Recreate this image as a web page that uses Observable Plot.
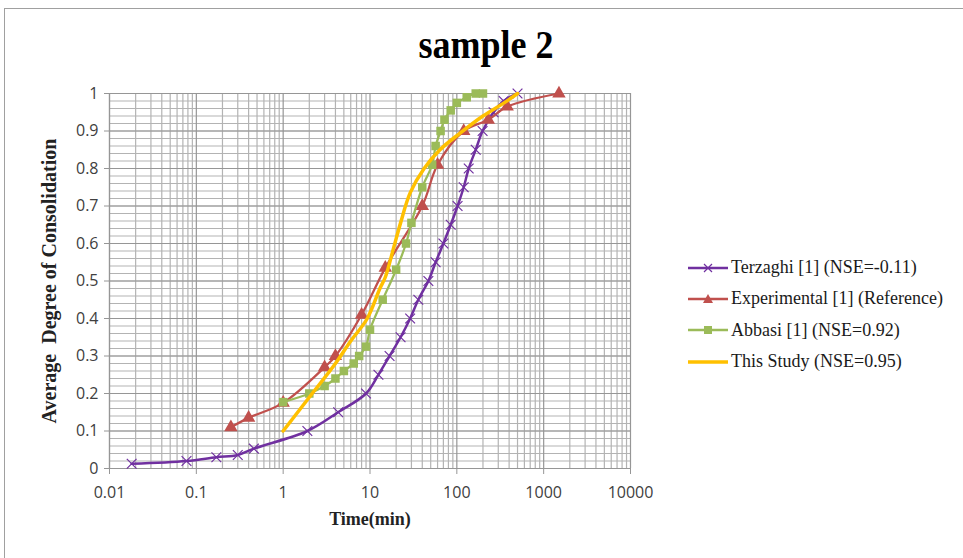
<!DOCTYPE html>
<html><head><meta charset="utf-8">
<script src="https://cdn.jsdelivr.net/npm/d3@7"></script>
<script src="https://cdn.jsdelivr.net/npm/@observablehq/plot@0.6"></script>
<style>
body{margin:0;background:#fff;}
#wrap{position:relative;width:963px;height:558px;overflow:hidden;background:#fff;}
#border{position:absolute;left:4px;top:8px;width:990px;height:600px;border:1px solid #a0a0a0;}
#title{position:absolute;top:24px;left:336px;width:300px;text-align:center;font:bold 36px "Liberation Serif",serif;color:#000;transform:scaleY(1.1);}
#chart{position:absolute;left:0;top:0;}
#legend{position:absolute;left:688px;top:252px;font-family:"Liberation Serif",serif;font-size:18px;color:#1a1a1a;}
.item{display:flex;align-items:center;height:31.3px;white-space:nowrap;}
.item svg{margin-right:3px;}
</style></head>
<body><div id="wrap"><div id="border"></div><div id="title">sample 2</div><div id="chart"></div><div id="legend"></div></div>
<script>
// ---- data ----
const terzaghiT = [0.018,0.077,0.17,0.3,0.46,1.9,4.3,9,12.5,16.8,22.5,29,36,47,57,70,85,102,120,137,165,198,265,346,500];
const terzaghiU = [0.0125,0.02,0.03,0.036,0.053,0.1,0.15,0.2,0.25,0.3,0.35,0.4,0.45,0.5,0.55,0.6,0.65,0.7,0.75,0.8,0.85,0.9,0.95,0.98,1.0];

const expT = [0.25,0.4,1,3,4,8,15,40,60,120,230,380,1500];
const expU = [0.11,0.135,0.175,0.27,0.3,0.41,0.535,0.7,0.81,0.9,0.93,0.965,1.0];

const abbasiT = [1,2,3,4,5,6.5,7.5,9,10,14,20,26,30,40,52,57,65,72,85,100,130,165,200];
const abbasiU = [0.177,0.2,0.22,0.24,0.26,0.28,0.3,0.325,0.37,0.45,0.53,0.6,0.655,0.75,0.81,0.86,0.9,0.93,0.955,0.975,0.99,1.0,1.0];

const studyT = [1,2,4,6,9.3,13,15,18.8,22.5,29,42,64,110,200,350,500];
const studyU = [0.10,0.19,0.28,0.34,0.40,0.48,0.51,0.59,0.655,0.735,0.80,0.85,0.895,0.94,0.975,1.0];

const xTicks = [0.01,0.1,1,10,100,1000,10000];
const yTicks = [0,0.1,0.2,0.3,0.4,0.5,0.6,0.7,0.8,0.9,1];

const seriesNames = ["Terzaghi [1] (NSE=-0.11)","Experimental [1] (Reference)","Abbasi [1] (NSE=0.92)","This Study (NSE=0.95)"];
const seriesColors = ["#7030A0","#C0504D","#9BBB59","#FFC000"];

// ---- build tables ----
const toRows = (T, U) => T.map((t, i) => ({t, u: U[i]}));
const terz = toRows(terzaghiT, terzaghiU);
const expe = toRows(expT, expU);
const abba = toRows(abbasiT, abbasiU);
const stud = toRows(studyT, studyU);

const minorX = [];
for (let k = -2; k <= 3; k++) for (let m = 2; m <= 9; m++) minorX.push(m * Math.pow(10, k));
const minorY = d3.range(0, 51).map(i => i / 50);

const gridMinor = "#b3b3b3", gridMajor = "#969696";

const chart = Plot.plot({
  width: 680, height: 558,
  marginLeft: 109, marginRight: 50, marginTop: 93, marginBottom: 90,
  x: {type: "log", domain: [0.01, 10000], axis: null},
  y: {domain: [0, 1], axis: null},
  marks: [
    Plot.gridY(minorY, {stroke: gridMinor, strokeOpacity: 1, strokeWidth: 1.2}),
    Plot.gridX(minorX, {stroke: gridMinor, strokeOpacity: 1, strokeWidth: 1.2}),
    Plot.gridY(yTicks, {stroke: gridMajor, strokeOpacity: 1, strokeWidth: 1.2}),
    Plot.gridX(xTicks, {stroke: gridMajor, strokeOpacity: 1, strokeWidth: 1.2}),
    Plot.axisX(xTicks, {tickSize: 6, tickPadding: 12, tickFormat: d => String(d), fontSize: 16, fontFamily: "Open Sans", stroke: gridMajor, color: "#404040", label: null}),
    Plot.axisY(yTicks, {tickSize: 5, tickPadding: 6, tickFormat: d => String(d), fontSize: 16, fontFamily: "Open Sans", stroke: gridMajor, color: "#404040", label: null}),
    Plot.ruleY([0], {stroke: gridMajor, strokeWidth: 1.2}),
    Plot.ruleX([0.01], {stroke: gridMajor, strokeWidth: 1.2}),
    Plot.text(["Time(min)"], {frameAnchor: "bottom", dy: 56, fontSize: 18, fontWeight: "bold", fontFamily: "Liberation Serif", fill: "#222"}),
    Plot.text(["Average  Degree of Consolidation"], {frameAnchor: "left", textAnchor: "middle", dx: -60, rotate: -90, fontSize: 20, fontWeight: "bold", fontFamily: "Liberation Serif", fill: "#222"}),
    // series
    Plot.line(terz, {x: "t", y: "u", stroke: seriesColors[0], strokeWidth: 2.5, curve: "catmull-rom"}),
    Plot.dot(terz, {x: "t", y: "u", symbol: "times", r: 4.5, stroke: seriesColors[0], strokeWidth: 1.2}),
    Plot.line(expe, {x: "t", y: "u", stroke: seriesColors[1], strokeWidth: 2.25, curve: "catmull-rom"}),
    Plot.dot(expe, {x: "t", y: "u", symbol: "triangle", r: 5, fill: seriesColors[1]}),
    Plot.line(abba, {x: "t", y: "u", stroke: seriesColors[2], strokeWidth: 2.25, curve: "catmull-rom"}),
    Plot.dot(abba, {x: "t", y: "u", symbol: "square", r: 4.8, fill: seriesColors[2]}),
    Plot.line(stud, {x: "t", y: "u", stroke: seriesColors[3], strokeWidth: 3.5, curve: "catmull-rom"})
  ]
});
document.getElementById("chart").appendChild(chart);

// ---- legend ----
const shapes = [
  c => `<path d="M16,3L24,11M24,3L16,11" stroke="${c}" stroke-width="1.2"/>`,
  c => `<path d="M20,2L25,11L15,11Z" fill="${c}"/>`,
  c => `<rect x="16" y="3" width="8" height="8" fill="${c}"/>`,
  c => ``
];
const legend = document.getElementById("legend");
seriesNames.forEach((name, i) => {
  const c = seriesColors[i];
  const sw = i === 3 ? 3.5 : 2.5;
  const div = document.createElement("div");
  div.className = "item";
  div.innerHTML = `<svg width="40" height="14"><line x1="0" x2="40" y1="7" y2="7" stroke="${c}" stroke-width="${sw}"/>${shapes[i](c)}</svg><span>${name}</span>`;
  legend.appendChild(div);
});
</script>
</body></html>
